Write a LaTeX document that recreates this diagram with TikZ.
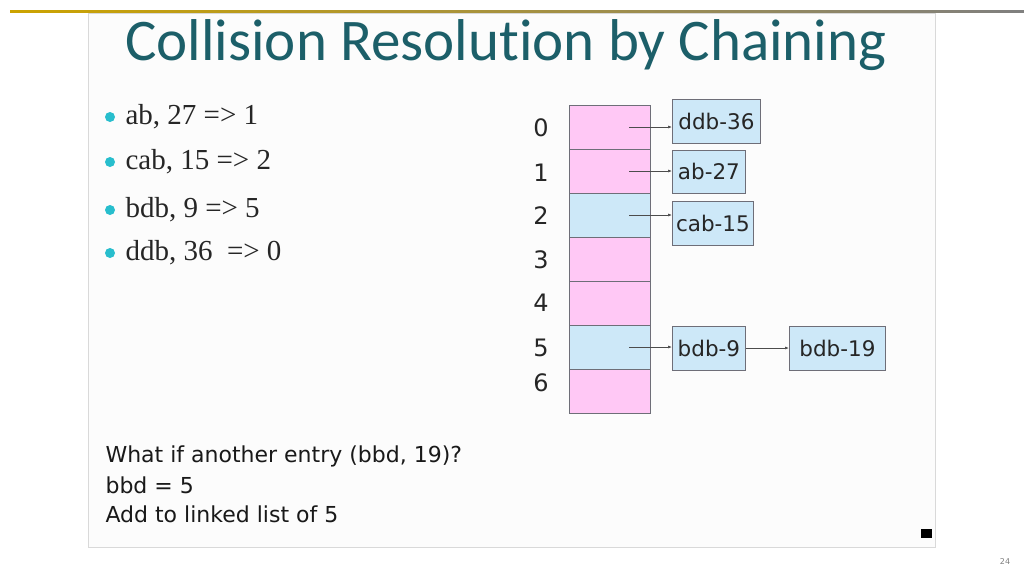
\documentclass[tikz,border=0pt]{standalone}
\usepackage{fontspec}
\usetikzlibrary{arrows.meta}
\setmainfont{Liberation Serif}
\newfontfamily\calfnt[Ligatures=NoCommon]{Carlito}
\newfontfamily\dvs{DejaVu Sans}
\definecolor{teal1}{RGB}{28,95,105}
\definecolor{pinkc}{RGB}{255,200,245}
\definecolor{bluec}{RGB}{205,232,248}
\definecolor{edgec}{RGB}{110,110,120}
\definecolor{bulc}{RGB}{40,190,205}
\begin{document}
\begin{tikzpicture}[x=1pt,y=-1pt,
 cell/.style={draw=edgec,line width=0.8pt,minimum width=81pt,minimum height=44pt,inner sep=0pt},
 item/.style={draw=edgec,fill=bluec,line width=0.8pt,inner sep=0pt,minimum height=44pt,font=\dvs\fontsize{21.5}{24}\selectfont,text=black!85},
 idx/.style={font=\dvs\fontsize{24}{28}\selectfont,text=black!85},
 bul/.style={anchor=west,font=\fontsize{29}{32}\selectfont,text=black!85},
 bot/.style={anchor=west,font=\dvs\fontsize{22}{26}\selectfont,text=black!90},
 arr/.style={-{Latex[length=4pt,width=3pt]},draw=black!70,line width=0.7pt}]
\useasboundingbox (0,0) rectangle (1024,576);
\fill[white] (0,0) rectangle (1024,576);
\shade[left color=yellow!60!orange!80!black,right color=gray] (10,10.5) rectangle (1024,12);
\draw[black!15,fill=black!1] (88,13) rectangle (935,547);
\node[font=\calfnt\fontsize{59}{62}\selectfont,text=teal1] (title) at (506,45) {Collision Resolution by Chaining};
\foreach \t/\y [count=\i] in {{ab, 27 => 1}/117,{cab, 15 => 2}/162,{bdb, 9 => 5}/210,{ddb, 36 \ => 0}/253}{
 \fill[bulc] (110,\y) circle (5);
 \node[bul] (b\i) at (122,\y) {\t};
}
\foreach \c [count=\i from 0] in {pinkc,pinkc,bluec,pinkc,pinkc,bluec,pinkc}{
 \node[cell,fill=\c,anchor=north west] (c\i) at (569,105+44*\i) {};
 \coordinate (p\i) at (629,127+44*\i);
}
\foreach \n/\y [count=\i from 0] in {0/128,1/173,2/216,3/260,4/303,5/348,6/383}
 \node[idx] (i\i) at (541,\y) {\n};
\node[item,minimum width=88pt,anchor=west] (d36) at (672,121) {ddb-36};
\node[item,minimum width=73pt,anchor=west,minimum height=43pt] (a27) at (672,171.5) {ab-27};
\node[item,minimum width=81pt,anchor=west] (c15) at (672,223) {cab-15};
\node[item,minimum width=73pt,anchor=west] (b9) at (672,348) {bdb-9};
\node[item,minimum width=96pt,anchor=west] (b19) at (789,348) {bdb-19};
\draw[arr] (p0) -- (d36.west|-p0);
\draw[arr] (p1) -- (a27.west|-p1);
\draw[arr] (p2) -- (c15.west|-p2);
\draw[arr] (p5) -- (b9.west|-p5);
\draw[arr] (b9.east) -- (b19.west);
\node[bot] (t1) at (102,456) {What if another entry (bbd, 19)?};
\node[bot] (t2) at (102,485) {bbd = 5};
\node[bot] (t3) at (102,514) {Add to linked list of 5};
\fill[black] (921,529) rectangle (932,538);
\node[font=\dvs\fontsize{8}{9}\selectfont,text=black!50] (pg) at (1005,562) {24};
\end{tikzpicture}
\end{document}
